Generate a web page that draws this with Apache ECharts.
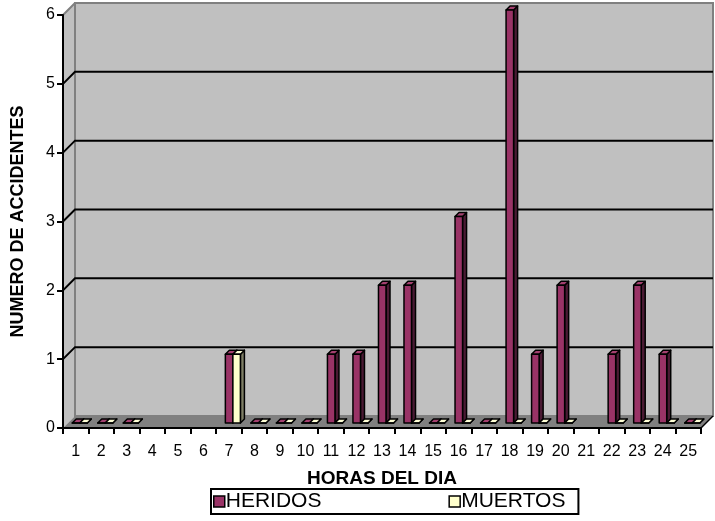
<!DOCTYPE html>
<html>
<head>
<meta charset="utf-8">
<script src="https://cdn.jsdelivr.net/npm/echarts@6/dist/echarts.min.js"></script>
<style>
  html, body { margin: 0; padding: 0; background: #ffffff; }
  #chart { width: 715px; height: 521px; }
</style>
</head>
<body>
<div id="chart"></div>
<script>
// Hours of the day (categories)
const hours = ['1','2','3','4','5','6','7','8','9','10','11','12','13','14','15','16','17','18','19','20','21','22','23','24','25'];
// Accidents with injured people per hour (null = no record)
const heridos = [0,0,0,null,null,null,1,0,0,0,1,1,2,2,0,3,0,6,1,2,null,1,2,1,0];
// Accidents with deaths per hour
const muertos = [0,0,0,null,null,null,1,0,0,0,0,0,0,0,0,0,0,0,0,0,null,0,0,0,0];
// Value-axis ticks
const yTicks = [0,1,2,3,4,5,6];

const FONT = '"Liberation Sans", Arial, sans-serif';
const DEPTH = 12;               // perspective depth of walls / floor
const BAR_OX = 4, BAR_OY = -5;  // bar placement inside depth
const BAR_D = 4;                // bar thickness in depth

const seriesStyle = [
  { front: '#993366', side: '#4a1a33', top: '#a3406f' },
  { front: '#ffffcc', side: '#7f7f66', top: '#ffffd6' }
];

function frameRender(params, api) {
  const cs = params.coordSys;
  const x = cs.x, y = cs.y, w = cs.width, h = cs.height, D = DEPTH;
  const kids = [];
  // left side wall
  kids.push({ type: 'polygon', shape: { points: [[x, y + h], [x, y], [x + D, y - D], [x + D, y + h - D]] },
    style: { fill: '#c0c0c0', stroke: null } });
  // back wall
  kids.push({ type: 'rect', shape: { x: x + D, y: y - D, width: w, height: h },
    style: { fill: '#c0c0c0', stroke: '#808080', lineWidth: 2 } });
  // floor
  kids.push({ type: 'polygon', shape: { points: [[x, y + h], [x + D, y + h - D], [x + w + D, y + h - D], [x + w, y + h]] },
    style: { fill: '#808080', stroke: null } });
  // gridlines on back wall with diagonal connectors to the value axis
  yTicks.forEach(function (v) {
    if (v === 0) return;
    const py = api.coord([0, v])[1];
    const last = v === yTicks[yTicks.length - 1];
    kids.push({ type: 'polyline', shape: { points: [[x, py], [x + D, py - D], [x + w + D, py - D]] },
      style: { fill: null, stroke: last ? '#808080' : '#000000', lineWidth: 2 } });
  });
  // right floor edge
  kids.push({ type: 'line', shape: { x1: x + w, y1: y + h, x2: x + w + D, y2: y + h - D },
    style: { stroke: '#000000', lineWidth: 1.5 } });
  return { type: 'group', children: kids, silent: true };
}

function makeBarRender(idx) {
  return function (params, api) {
    const val = api.value(1);
    if (val === null || val === undefined || isNaN(val)) return null;
    const cat = api.value(0);
    const band = api.size([1, 0])[0];
    const bw = band * 0.295;
    const c = api.coord([cat, val]);
    const b = api.coord([cat, 0]);
    const x1 = c[0] + BAR_OX - bw + idx * bw;
    const x2 = x1 + bw;
    const yt = c[1] + BAR_OY;
    const yb = b[1] + BAR_OY;
    const st = seriesStyle[idx];
    const line = { stroke: '#000000', lineWidth: 1.5, lineJoin: 'round' };
    return {
      type: 'group',
      children: [
        { type: 'polygon', shape: { points: [[x2, yb], [x2, yt], [x2 + BAR_D, yt - BAR_D], [x2 + BAR_D, yb - BAR_D]] },
          style: Object.assign({ fill: st.side }, line) },
        { type: 'polygon', shape: { points: [[x1, yt], [x2, yt], [x2 + BAR_D, yt - BAR_D], [x1 + BAR_D, yt - BAR_D]] },
          style: Object.assign({ fill: st.top }, line) },
        { type: 'rect', shape: { x: x1, y: yt, width: bw, height: yb - yt },
          style: Object.assign({ fill: st.front }, line) }
      ]
    };
  };
}

const chart = echarts.init(document.getElementById('chart'), null, { renderer: 'canvas' });
chart.setOption({
  backgroundColor: '#ffffff',
  animation: false,
  textStyle: { fontFamily: FONT },
  grid: { left: 63, top: 15, width: 638, height: 413, containLabel: false, outerBoundsMode: 'none' },
  xAxis: {
    type: 'category',
    data: hours,
    boundaryGap: true,
    name: 'HORAS DEL DIA',
    nameLocation: 'middle',
    nameGap: 41,
    nameTextStyle: { fontFamily: FONT, fontWeight: 'bold', fontSize: 19, color: '#000' },
    axisLine: { lineStyle: { color: '#000', width: 2 } },
    axisTick: { show: true, length: 6, alignWithLabel: false, lineStyle: { color: '#000', width: 2 } },
    axisLabel: { fontFamily: FONT, fontSize: 16, color: '#000', margin: 16, interval: 0 },
    splitLine: { show: false },
    z: 10
  },
  yAxis: {
    type: 'value',
    min: 0,
    max: 6,
    interval: 1,
    name: 'NUMERO DE ACCIDENTES',
    nameLocation: 'middle',
    nameGap: 36,
    nameTextStyle: { fontFamily: FONT, fontWeight: 'bold', fontSize: 18, color: '#000' },
    axisLine: { show: true, lineStyle: { color: '#000', width: 2 } },
    axisTick: { show: true, length: 6, lineStyle: { color: '#000', width: 2 } },
    axisLabel: { fontFamily: FONT, fontSize: 16, color: '#000', margin: 8 },
    splitLine: { show: false },
    z: 10
  },
  legend: {
    left: 211,
    top: 489,
    orient: 'horizontal',
    padding: [2, 13, 2, 2],
    itemGap: 127,
    itemWidth: 11,
    itemHeight: 11,
    icon: 'rect',
    borderColor: '#000',
    borderWidth: 2,
    textStyle: { fontFamily: FONT, fontSize: 21, color: '#000', padding: [0, 0, 0, -4] },
    data: [
      { name: 'HERIDOS', itemStyle: { color: '#993366', borderColor: '#000', borderWidth: 1.5 } },
      { name: 'MUERTOS', itemStyle: { color: '#ffffcc', borderColor: '#000', borderWidth: 1.5 } }
    ]
  },
  series: [
    {
      name: 'frame',
      type: 'custom',
      renderItem: frameRender,
      data: [[0, 0]],
      silent: true,
      z: 1,
      clip: false
    },
    {
      name: 'HERIDOS',
      type: 'custom',
      renderItem: makeBarRender(0),
      itemStyle: { color: '#993366' },
      data: heridos.map(function (v, i) { return [i, v]; }),
      z: 5,
      clip: false
    },
    {
      name: 'MUERTOS',
      type: 'custom',
      renderItem: makeBarRender(1),
      itemStyle: { color: '#ffffcc' },
      data: muertos.map(function (v, i) { return [i, v]; }),
      z: 6,
      clip: false
    }
  ]
});
</script>
</body>
</html>
